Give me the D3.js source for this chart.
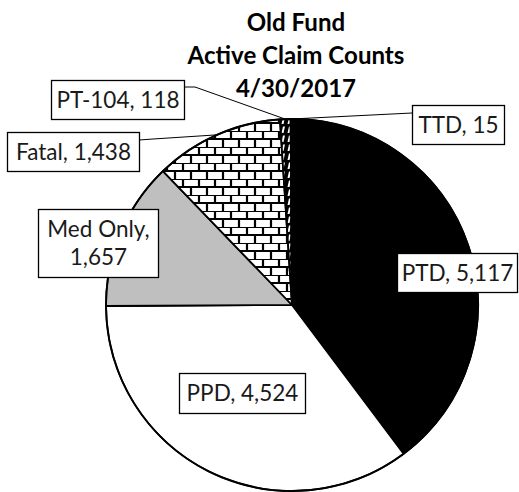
<!DOCTYPE html>
<html><head><meta charset="utf-8">
<script src="https://cdn.jsdelivr.net/npm/d3@7"></script>
<style>body{margin:0;background:#fff}svg{display:block}</style>
</head><body>
<script>
// ---- data ----
const categories = ["PTD", "PPD", "Med Only", "Fatal", "PT-104", "TTD"];
const values = [5117, 4524, 1657, 1438, 118, 15];
const labelLines = [["PTD, 5,117"], ["PPD, 4,524"], ["Med Only,", "1,657"], ["Fatal, 1,438"], ["PT-104, 118"], ["TTD, 15"]];
const titleLines = ["Old Fund", "Active Claim Counts", "4/30/2017"];

// ---- layout ----
const W = 519, H = 492;
const cx = 292, cy = 305, R = 186;
const boxes = [
  {x: 397, y: 253, w: 120, h: 39},
  {x: 179, y: 373, w: 126, h: 40},
  {x: 38, y: 209, w: 120, h: 68},
  {x: 7, y: 132, w: 132, h: 39, lead: [139, 140, 153, 139]},
  {x: 51, y: 80, w: 133, h: 39, lead: [184, 87, 195, 87]},
  {x: 412, y: 105, w: 92, h: 39, lead: [412, 113, 412, 113]}
];
const fills = ["#000", "#fff", "#bfbfbf", "url(#brick)", "url(#dash)", "#fff"];
const FONT = "Lato, 'Open Sans', sans-serif";

const svg = d3.select("body").append("svg").attr("width", W).attr("height", H);
const defs = svg.append("defs");
const brick = defs.append("pattern").attr("id", "brick").attr("patternUnits", "userSpaceOnUse")
  .attr("width", 16).attr("height", 16).attr("x", 0).attr("y", 2);
brick.append("rect").attr("width", 16).attr("height", 16).attr("fill", "#fff");
brick.append("path").attr("d", "M0,0H16M0,8H16M3,0V8M11,8V16").attr("stroke", "#000").attr("stroke-width", 2.2);
const dash = defs.append("pattern").attr("id", "dash").attr("patternUnits", "userSpaceOnUse")
  .attr("width", 6).attr("height", 9);
dash.append("rect").attr("width", 6).attr("height", 9).attr("fill", "#000");
dash.append("path").attr("d", "M1.5,8L3,1.5H5L3.5,8Z").attr("fill", "#fff");

const pie = d3.pie().sort(null).value(d => d)(values);
const arc = d3.arc().innerRadius(0).outerRadius(R);
const g = svg.append("g").attr("transform", `translate(${cx},${cy})`);
g.selectAll("path").data(pie).join("path")
  .attr("d", arc).attr("fill", (d, i) => fills[i])
  .attr("stroke", "#000").attr("stroke-width", 1.8).attr("stroke-linejoin", "round");
g.append("circle").attr("r", R).attr("fill", "none").attr("stroke", "#000").attr("stroke-width", 1.8);

// leader lines
pie.forEach((d, i) => {
  const b = boxes[i];
  if (!b.lead) return;
  const a = (d.startAngle + d.endAngle) / 2;
  const px = cx + R * Math.sin(a), py = cy - R * Math.cos(a);
  svg.append("path").attr("d", `M${b.lead[0]},${b.lead[1]}L${b.lead[2]},${b.lead[3]}L${px},${py}`)
    .attr("fill", "none").attr("stroke", "#000").attr("stroke-width", 1);
});

// measure helper
function widthOf(txt, size, weight) {
  const t = svg.append("text").attr("font-family", FONT).attr("font-size", size).attr("font-weight", weight).text(txt);
  const w = t.node().getComputedTextLength(); t.remove(); return w;
}
const labelSize = 100 * 115 / widthOf("Fatal, 1,438", 100, 400);
const titleSize = 100 * 217 / widthOf("Active Claim Counts", 100, 700);

// label boxes
boxes.forEach((b, i) => {
  svg.append("rect").attr("x", b.x + 0.5).attr("y", b.y + 0.5).attr("width", b.w).attr("height", b.h)
    .attr("fill", "#fff").attr("stroke", "#000").attr("stroke-width", 1.3);
  const lines = labelLines[i];
  const lh = 28;
  const mid = b.y + b.h / 2;
  lines.forEach((l, j) => {
    svg.append("text").attr("x", b.x + b.w / 2 + 0.5)
      .attr("y", mid + (j - (lines.length - 1) / 2) * lh + labelSize * 0.36)
      .attr("text-anchor", "middle").attr("font-family", FONT).attr("font-size", labelSize)
      .attr("fill", "#1a1a1a").text(l);
  });
});

// title
titleLines.forEach((l, j) => {
  svg.append("text").attr("x", 296).attr("y", 31 + j * 33)
    .attr("text-anchor", "middle").attr("font-family", FONT).attr("font-weight", 700)
    .attr("font-size", titleSize).attr("fill", "#000").text(l);
});
</script>
</body></html>
